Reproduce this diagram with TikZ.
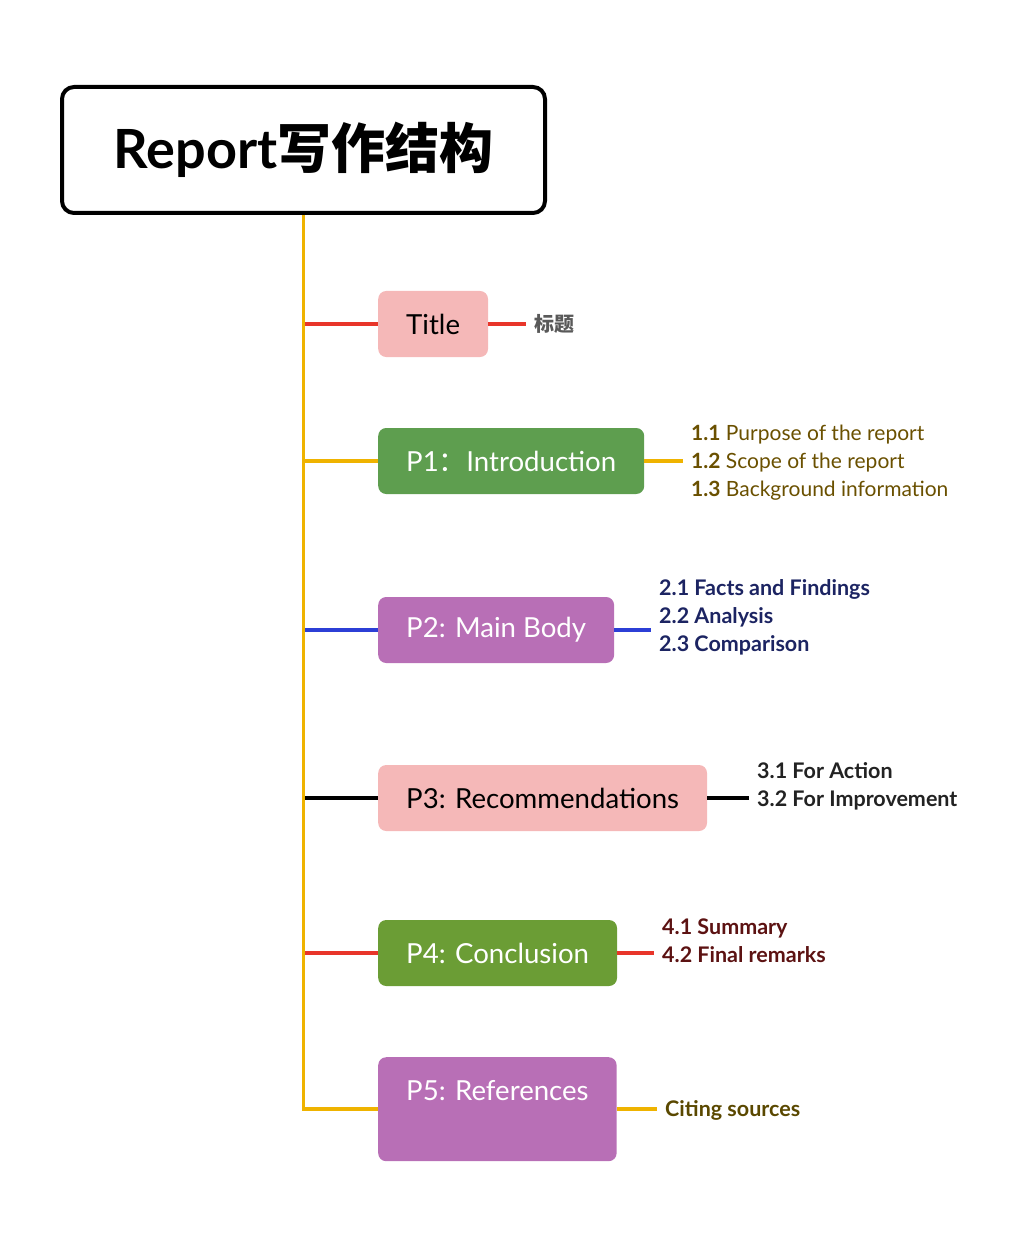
\documentclass[tikz,border=0pt]{standalone}
\usepackage{fontspec}
\setmainfont{Lato}
\newfontfamily\cjk{Noto Sans CJK SC}
\usetikzlibrary{calc}

\definecolor{trunkcol}{HTML}{EFB300}
\definecolor{redcol}{HTML}{E8352A}
\definecolor{bluecol}{HTML}{2C3FD6}
\definecolor{pinkfill}{HTML}{F5B8B8}
\definecolor{greenfill}{HTML}{5E9E4F}
\definecolor{olivefill}{HTML}{6B9D35}
\definecolor{purplefill}{HTML}{B86FB6}
\definecolor{notea}{HTML}{6A5000}
\definecolor{noteb}{HTML}{1C2462}
\definecolor{notec}{HTML}{222222}
\definecolor{noted}{HTML}{5C1212}
\definecolor{notee}{HTML}{5A4800}

\begin{document}
\begin{tikzpicture}[x=1pt,y=-1pt,
    part/.style={rounded corners=8pt, anchor=west, minimum height=66pt,
        inner xsep=28pt, inner ysep=0pt, font=\fontsize{27.6}{32}\selectfont},
    note/.style={anchor=west, align=left, inner sep=0pt,
        font=\fontsize{21}{28}\selectfont},
    boldnote/.style={note, font=\fontsize{21.5}{28}\selectfont\bfseries},
    branch/.style={line width=3.5pt}
]
\useasboundingbox (0,0) rectangle (1027,1246);

% Root box
\node[draw, line width=4pt, rounded corners=12pt, minimum width=483pt,
    minimum height=126pt, font=\fontsize{54}{60}\selectfont\bfseries]
    (root) at (303.5,150) {Report{\cjk 写作结构}};

% Parts
\node[part, fill=pinkfill] (title) at (378,324) {Title};
\node[part, fill=greenfill, text=white] (intro) at (378,461) {P1{\cjk ：}Introduction};
\node[part, fill=purplefill, text=white] (body) at (378,630) {P2: Main Body};
\node[part, fill=pinkfill] (recom) at (378,798) {P3: Recommendations};
\node[part, fill=olivefill, text=white] (concl) at (378,953) {P4: Conclusion};
\node[part, fill=purplefill, text=white, anchor=north west,
    text height=43pt, text depth=61pt] (refs) at (378,1057) {P5: References};

% Notes
\node[note, text=black!65, font=\fontsize{20}{28}\selectfont\cjk\bfseries]
    (titlenote) at (534,324) {标题};
\node[note, text=notea] (intronote) at (691,463)
    {\textbf{1.1} Purpose of the report\\\textbf{1.2} Scope of the report\\\textbf{1.3} Background information};
\node[boldnote, text=noteb] (bodynote) at (659,617)
    {2.1 Facts and Findings\\2.2 Analysis\\2.3 Comparison};
\node[boldnote, text=notec] (recomnote) at (757,786)
    {3.1 For Action\\3.2 For Improvement};
\node[boldnote, text=noted] (conclnote) at (662,941)
    {4.1 Summary\\4.2 Final remarks};
\node[boldnote, text=notee] (refsnote) at (665,1110)
    {Citing sources};

% Connection
\draw[branch, redcol] (root.south |- title.west) -- (title.west);
\draw[branch, trunkcol] (root.south |- intro.west) -- (intro.west);
\draw[branch, bluecol] (root.south |- body.west) -- (body.west);
\draw[branch, black] (root.south |- recom.west) -- (recom.west);
\draw[branch, redcol] (root.south |- concl.west) -- (concl.west);
\draw[branch, trunkcol] (root.south) |- (refs.west);

\draw[branch, redcol] (title.east) -- ($(titlenote.west)+(-8,0)$);
\draw[branch, trunkcol] (intro.east) -- ($(intro.east -| intronote.west)+(-8,0)$);
\draw[branch, bluecol] (body.east) -- ($(body.east -| bodynote.west)+(-8,0)$);
\draw[branch, black] (recom.east) -- ($(recom.east -| recomnote.west)+(-8,0)$);
\draw[branch, redcol] (concl.east) -- ($(concl.east -| conclnote.west)+(-8,0)$);
\draw[branch, trunkcol] (refs.east) -- ($(refs.east -| refsnote.west)+(-8,0)$);
\end{tikzpicture}
\end{document}
